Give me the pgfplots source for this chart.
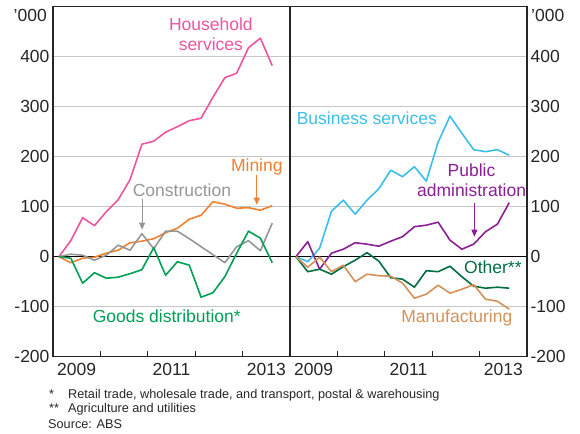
\documentclass[border=0pt]{standalone}
\usepackage{fontspec}
\setmainfont{Liberation Sans}
\usepackage{pgfplots}
\usepackage{pgfplotstable}
\pgfplotsset{compat=1.18}
\usetikzlibrary{arrows.meta}

\definecolor{cpink}{RGB}{238,85,160}
\definecolor{corange}{RGB}{240,128,48}
\definecolor{cgray}{RGB}{150,150,150}
\definecolor{cgreen}{RGB}{0,160,85}
\definecolor{cblue}{RGB}{60,190,235}
\definecolor{cpurple}{RGB}{140,30,150}
\definecolor{cdgreen}{RGB}{0,110,65}
\definecolor{ctan}{RGB}{212,145,90}

\pgfplotstableread{
x     house mining constr goods business public other manuf
0.125 0     0      0      0     0        0      0     0
0.375 32    -12    5      -3    -10      30     -30   -21
0.625 78    -3     3      -53   17       -25    -25   -1
0.875 62    -1     -7     -32   91       7      -35   -30
1.125 90    7      3      -43   113      15     -20   -17
1.375 114   13     23     -41   85       28     -7    -50
1.625 154   28     13     -34   113      25     8     -35
1.875 225   31     46     -26   136      21     -9    -38
2.125 231   36     16     18    173      31     -42   -39
2.375 249   48     51     -37   160      40     -45   -53
2.625 260   57     51     -10   180      60     -61   -83
2.875 272   75     36     -17   151      63     -28   -75
3.125 277   83     20     -81   229      69     -30   -57
3.375 319   110    4      -72   281      33     -19   -73
3.625 358   105    -12    -40   247      15     -40   -65
3.875 367   97     20     7     214      25     -59   -56
4.125 418   98     32     51    210      50     -63   -85
4.375 437   93     12     37    214      65     -61   -89
4.625 382   102    67     -12   203      108    -63   -105
}\datatable

\pgfplotsset{panel/.style={
  scale only axis, width=237pt, height=350pt,
  xmin=0, xmax=5, ymin=-200, ymax=500,
  xtick={1,2,3,4}, xticklabels={},
  extra x ticks={0.5,2.5,4.5}, extra x tick labels={2009,2011,2013},
  extra x tick style={major tick length=0pt, grid=none, xticklabel style={yshift=-3.5pt}},
  xtick pos=bottom, tick align=inside,
  ytick={-200,-100,0,100,200,300,400},
  ymajorgrids, grid style={black!22, line width=0.9pt},
  ytick style={draw=none},
  axis line style={line width=1.1pt, black!85},
  xtick style={black!85, line width=0.9pt},
  major tick length=6pt,
  ticklabel style={font=\fontsize{17.5}{20}\selectfont, text=black!85},
  /pgf/number format/assume math mode=true,
  every axis plot/.append style={line width=1.6pt, line join=round},
}}
\tikzset{lab/.style={font=\fontsize{17.5}{20}\selectfont, align=center, inner sep=0pt},
         arr/.style={line width=1pt, -{Triangle[length=7pt,width=6pt]}}}

\begin{document}
\begin{tikzpicture}
\begin{axis}[panel, at={(53pt,76.3pt)}, anchor=south west, yticklabel pos=left]
  \addplot[black, line width=1pt] coordinates {(0,0) (5,0)};
  \addplot[cpink] table[x=x,y=house] {\datatable};
  \addplot[corange] table[x=x,y=mining] {\datatable};
  \addplot[cgray] table[x=x,y=constr] {\datatable};
  \addplot[cgreen] table[x=x,y=goods] {\datatable};
  \node[lab, text=cpink] at (axis cs:3.33,445) {Household\\services};
  \node[lab, text=corange] at (axis cs:4.30,179) {Mining};
  \draw[arr, corange] (axis cs:4.30,163) -- (axis cs:4.30,104);
  \node[lab, text=cgray] at (axis cs:2.72,133) {Construction};
  \draw[arr, cgray] (axis cs:1.88,115) -- (axis cs:1.88,54);
  \node[lab, text=cgreen] at (axis cs:2.4,-120) {Goods distribution*};
\end{axis}
\begin{axis}[panel, at={(290pt,76.3pt)}, anchor=south west, yticklabel pos=right]
  \addplot[black, line width=1pt] coordinates {(0,0) (5,0)};
  \addplot[cblue] table[x=x,y=business] {\datatable};
  \addplot[cpurple] table[x=x,y=public] {\datatable};
  \addplot[cdgreen] table[x=x,y=other] {\datatable};
  \addplot[ctan] table[x=x,y=manuf] {\datatable};
  \node[lab, text=cblue] at (axis cs:1.62,277) {Business services};
  \node[lab, text=cpurple] at (axis cs:3.83,153) {Public\\administration};
  \draw[arr, cpurple] (axis cs:3.89,108) -- (axis cs:3.89,40);
  \node[lab, text=cdgreen] at (axis cs:4.28,-21) {Other**};
  \node[lab, text=ctan] at (axis cs:3.52,-123) {Manufacturing};
\end{axis}
\node[anchor=east, font=\fontsize{17.5}{20}\selectfont, text=black!85, inner sep=0pt] at (47pt,417.5pt) {’000};
\node[anchor=west, font=\fontsize{17.5}{20}\selectfont, text=black!85, inner sep=0pt] at (531pt,417.5pt) {’000};
\begin{scope}[every node/.style={font=\fontsize{12.7}{14}\selectfont, text=black!85, inner sep=0pt, anchor=base west}]
  \node at (49pt,34pt) {*};
  \node at (68pt,34pt) {Retail trade, wholesale trade, and transport, postal \& warehousing};
  \node at (49pt,20pt) {**};
  \node at (68pt,20pt) {Agriculture and utilities};
  \node at (48pt,5pt) {Source: ABS};
\end{scope}
\pgfresetboundingbox
\useasboundingbox (0,0) rectangle (580pt,433pt);
\end{tikzpicture}
\end{document}
